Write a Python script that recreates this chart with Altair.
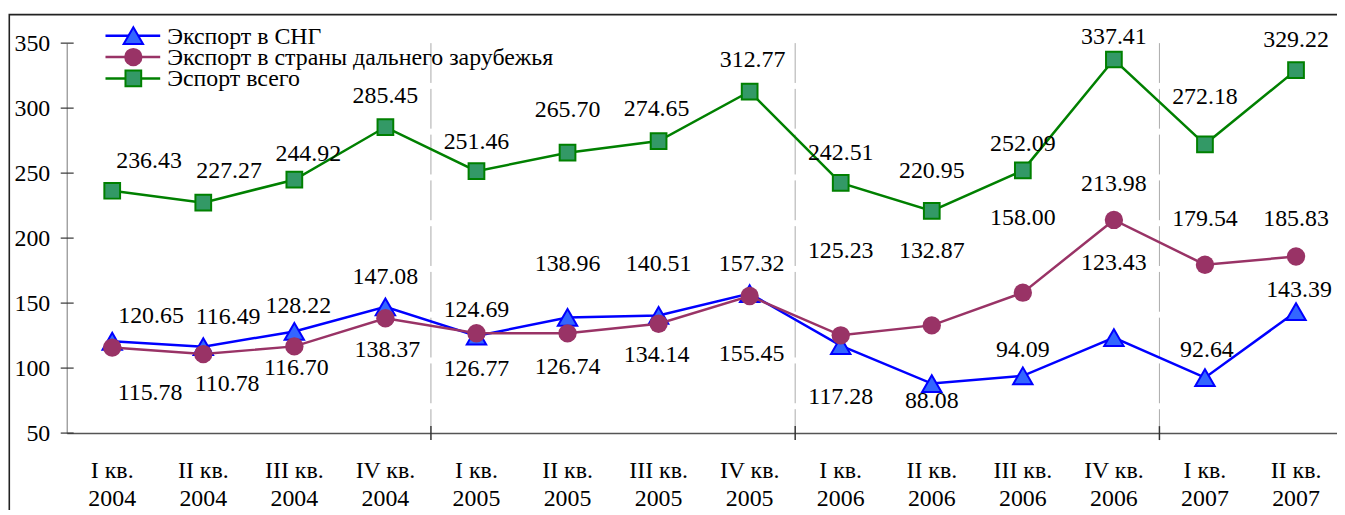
import altair as alt
import pandas as pd

# ---------------- data ----------------
CATS = ["I кв.\n2004", "II кв.\n2004", "III кв.\n2004", "IV кв.\n2004",
        "I кв.\n2005", "II кв.\n2005", "III кв.\n2005", "IV кв.\n2005",
        "I кв.\n2006", "II кв.\n2006", "III кв.\n2006", "IV кв.\n2006",
        "I кв.\n2007", "II кв.\n2007"]
SERIES = ["Экспорт в СНГ", "Экспорт в страны дальнего зарубежья", "Эспорт всего"]
CIS = [120.65, 116.49, 128.22, 147.08, 124.69, 138.96, 140.51, 157.32,
       117.28, 88.08, 94.09, 123.43, 92.64, 143.39]
FAR = [115.78, 110.78, 116.70, 138.37, 126.77, 126.74, 134.14, 155.45,
       125.23, 132.87, 158.00, 213.98, 179.54, 185.83]
TOTAL = [236.43, 227.27, 244.92, 285.45, 251.46, 265.70, 274.65, 312.77,
         242.51, 220.95, 252.09, 337.41, 272.18, 329.22]
Y_TICKS = [50, 100, 150, 200, 250, 300, 350]
YEAR_BREAKS = [3.5, 7.5, 11.5]

# label offsets (px) from each point: dx right, dy down
CIS_DX = [39, 25, 4, 0, 0, 0, 0, 2, 0, 0, 0, 0, 2, 3]
CIS_DY = [-25, -30, -26, -30, -26, -54, -52, -30, 52, 18, -26, -75, -28, -22]
FAR_DX = [38, 24, 2, 2, 0, 0, -2, 2, 0, 0, 0, 0, 0, 0]
FAR_DY = [46, 30, 22, 32, 36, 34, 31, 58, -85, -75, -75, -36, -46, -38]
TOT_DX = [37, 26, 14, 0, 0, 0, -2, 3, 0, 0, 0, 0, 0, 0]
TOT_DY = [-30, -32, -26, -31, -29, -43, -32, -32, -30, -40, -27, -23, -48, -30]

LINE_COLORS = ["#0000FF", "#993366", "#008000"]
FILL_COLORS = ["#3366FF", "#993366", "#339966"]
SHAPES = ["triangle-up", "circle", "square"]
SIZES = [380, 340, 250]

# ---------------- layout ----------------
FONT = "Liberation Serif"
FS = 24
W, H = 1277, 392
XDOM = [-0.5, 13.45]
YDOM = [50, 350]
PXU = W / (XDOM[1] - XDOM[0])
PYU = H / (YDOM[1] - YDOM[0])

rows = []
for s, vals, dxs, dys in zip(SERIES, [CIS, FAR, TOTAL], [CIS_DX, FAR_DX, TOT_DX],
                             [CIS_DY, FAR_DY, TOT_DY]):
    for i, (v, dx, dy) in enumerate(zip(vals, dxs, dys)):
        rows.append({"series": s, "i": i, "cat": CATS[i], "value": v,
                     "label": f"{v:.2f}", "dx": dx, "dy": dy})
df = pd.DataFrame(rows)

xs = alt.Scale(domain=XDOM, nice=False, zero=False)
ys = alt.Scale(domain=YDOM, nice=False, zero=False)

X = alt.X("i:Q", scale=xs, axis=alt.Axis(labels=False, ticks=False, grid=False,
                                          title=None, domainColor="#555",
                                          domainWidth=1.5))
Y = alt.Y("value:Q", scale=ys, axis=alt.Axis(values=Y_TICKS, ticks=False, grid=False,
                                              title=None, labelFont=FONT,
                                              labelFontSize=FS, labelColor="black",
                                              labelPadding=17, domainColor="#777",
                                              domainWidth=1))

base = alt.Chart(df)

layers = []

# frame
frame = alt.Chart(pd.DataFrame({"a": [0]})).mark_rect(
    fill=None, stroke="#222", strokeWidth=1.6
).encode(x=alt.value(-57.7), x2=alt.value(3000), y=alt.value(-28.7), y2=alt.value(1000))
layers.append(frame)

# year separators
breaks_df = pd.DataFrame({"b": YEAR_BREAKS})
sep = alt.Chart(breaks_df).mark_rule(color="#aaaaaa", strokeWidth=1,
                                     strokeDash=[40, 6]).encode(
    x=alt.X("b:Q", scale=xs), y=alt.value(0), y2=alt.value(H - 7))
layers.append(sep)
xt = alt.Chart(breaks_df).mark_rule(color="#333", strokeWidth=1.5).encode(
    x=alt.X("b:Q", scale=xs), y=alt.value(H - 7), y2=alt.value(H + 7))
layers.append(xt)

# y tick marks crossing the axis
yt = alt.Chart(pd.DataFrame({"t": Y_TICKS})).mark_rule(color="#333", strokeWidth=1.2).encode(
    y=alt.Y("t:Q", scale=ys), x=alt.value(-6), x2=alt.value(7))
layers.append(yt)

# series
for k, s in enumerate(SERIES):
    sub = base.transform_filter(alt.datum.series == s)
    line = sub.mark_line(color=LINE_COLORS[k], strokeWidth=2.5).encode(x=X, y=Y)
    pts = sub.mark_point(shape=SHAPES[k], filled=True, fill=FILL_COLORS[k],
                         stroke=LINE_COLORS[k], strokeWidth=2 if k != 1 else 0,
                         size=SIZES[k], opacity=1).encode(x=X, y=Y)
    layers += [line, pts]

# data labels
labels = base.transform_calculate(
    lx=f"datum.i + datum.dx / {PXU}",
    ly=f"datum.value - datum.dy / {PYU}",
).mark_text(font=FONT, fontSize=FS, color="black", baseline="middle",
            align="center").encode(
    x=alt.X("lx:Q", scale=xs), y=alt.Y("ly:Q", scale=ys), text="label:N")
layers.append(labels)

# category labels
cat_df = pd.DataFrame({"i": list(range(len(CATS))), "cat": CATS})
cats = alt.Chart(cat_df).mark_text(font=FONT, fontSize=FS, color="black",
                                   baseline="top", align="center",
                                   lineBreak="\n", lineHeight=28).encode(
    x=alt.X("i:Q", scale=xs), y=alt.value(H + 26), text="cat:N")
layers.append(cats)

# legend
LEG_Y = [-7.5, 14, 35.5]
for k, s in enumerate(SERIES):
    ld = pd.DataFrame({"series": [s]})
    lr = alt.Chart(ld).mark_rule(color=LINE_COLORS[k], strokeWidth=2.5).encode(
        x=alt.value(39), x2=alt.value(94), y=alt.value(LEG_Y[k]))
    lp = alt.Chart(ld).mark_point(shape=SHAPES[k], filled=True, fill=FILL_COLORS[k],
                                  stroke=LINE_COLORS[k],
                                  strokeWidth=2 if k != 1 else 0,
                                  size=SIZES[k], opacity=1).encode(
        x=alt.value(67), y=alt.value(LEG_Y[k]))
    lt = alt.Chart(ld).mark_text(font=FONT, fontSize=FS, color="black", align="left",
                                 baseline="middle").encode(
        x=alt.value(101), y=alt.value(LEG_Y[k] + 1), text="series:N")
    layers += [lr, lp, lt]

chart = alt.layer(*layers).properties(
    width=W, height=H,
    autosize=alt.AutoSizeParams(type="none"),
    padding={"left": 59, "top": 34, "right": 0, "bottom": 76},
    background="white",
).configure_view(stroke=None)

chart.save("out.html", embed_options={"renderer": "svg", "actions": False})
